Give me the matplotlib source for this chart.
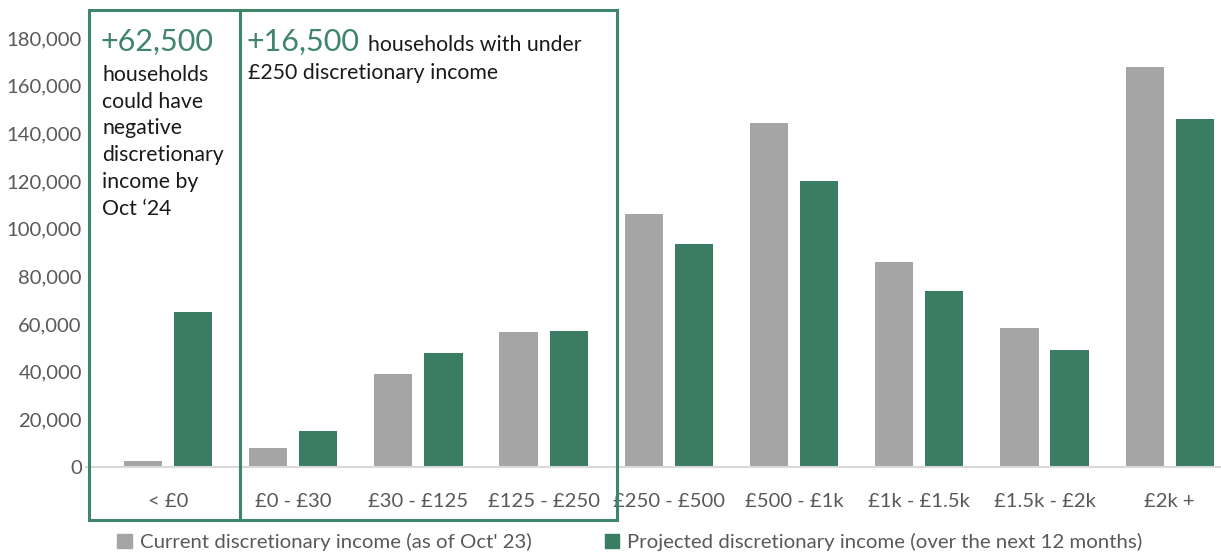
import numpy as np
import matplotlib.pyplot as plt
from matplotlib.patches import Rectangle, Patch

plt.rcParams['font.family'] = ['Lato', 'DejaVu Sans']

# households per discretionary income band (monthly)
bands = ['< £0', '£0 - £30', '£30 - £125', '£125 - £250', '£250 - £500',
         '£500 - £1k', '£1k - £1.5k', '£1.5k - £2k', '£2k +']
current = [2500, 8000, 39000, 56500, 106000, 144500, 86000, 58500, 168000]
projected = [65000, 15000, 48000, 57000, 93500, 120000, 74000, 49000, 146000]
yticks = [0, 20000, 40000, 60000, 80000, 100000, 120000, 140000, 160000, 180000]

grey = '#A5A5A5'
green = '#3A7D62'
box_green = '#3F8569'

W, H = 1221, 552
fig = plt.figure(figsize=(W / 100, H / 100), dpi=100)

def fx(px):
    return px / W

def fy(py):
    return 1 - py / H

# plot area in pixels: left 86, right edge of canvas, y=0 at 467, top tick at 38
ax = fig.add_axes([fx(86), fy(467), 1 - fx(86), fy(38) - fy(467)])

x = np.arange(len(bands))
w = 0.305
ax.bar(x - 0.2, current, w, color=grey)
ax.bar(x + 0.2, projected, w, color=green)

ax.set_xlim(-0.655, 8.41)
ax.set_ylim(0, 180000)
ax.set_yticks(yticks)
ax.set_yticklabels([f'{v:,}' for v in yticks])
ax.set_xticks(x)
ax.set_xticklabels(bands)
ax.tick_params(length=0, labelsize=14.6, colors='#595959', pad=3)
ax.tick_params(axis='x', pad=19)
for s in ['top', 'right', 'left']:
    ax.spines[s].set_visible(False)
ax.spines['bottom'].set_color('#D9D9D9')
ax.spines['bottom'].set_linewidth(1.5)
ax.patch.set_alpha(0)

# the two highlight boxes
for x0, x1 in [(89, 240), (240, 617)]:
    fig.patches.append(Rectangle((fx(x0), fy(520)), fx(x1) - fx(x0), fy(10) - fy(520),
                                 transform=fig.transFigure, fill=False,
                                 edgecolor=box_green, linewidth=2.2))

fig.text(fx(101), fy(42), '+62,500', fontsize=22, color=box_green, va='center')
fig.text(fx(102), fy(65), 'households\ncould have\nnegative\ndiscretionary\nincome by\nOct \u201824',
         fontsize=15.3, color='#1a1a1a', va='top', linespacing=1.42)
fig.text(fx(247), fy(42), '+16,500', fontsize=22, color=box_green, va='center')
fig.text(fx(368), fy(45), 'households with under', fontsize=15.3, color='#1a1a1a', va='center')
fig.text(fx(248), fy(73), '£250 discretionary income', fontsize=15.3, color='#1a1a1a', va='center')

handles = [Patch(color=grey, label="Current discretionary income (as of Oct' 23)"),
           Patch(color=green, label='Projected discretionary income (over the next 12 months)')]
fig.legend(handles=handles, loc='center', bbox_to_anchor=(fx(630), fy(542)), ncol=2,
           frameon=False, fontsize=14.7, handlelength=0.7, handleheight=0.7,
           handletextpad=0.4, columnspacing=3.6, labelcolor='#595959')

fig.savefig('out.png', dpi=100)
